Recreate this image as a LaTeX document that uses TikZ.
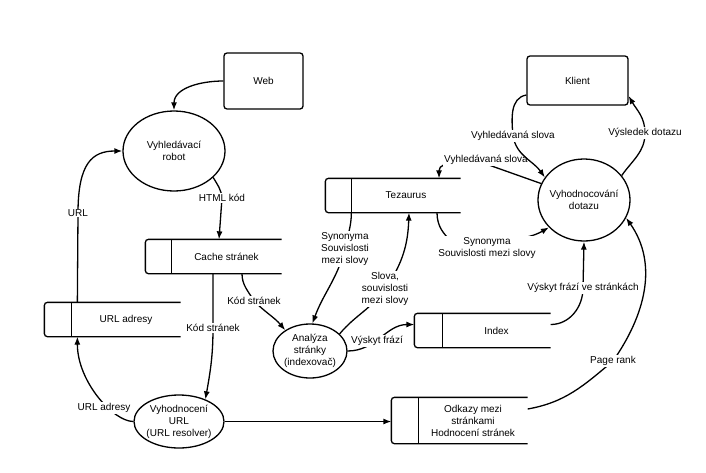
\documentclass[tikz,border=0pt]{standalone}
\usepackage{fontspec}
\setmainfont{Liberation Sans}
\usetikzlibrary{arrows.meta,shapes.geometric,calc}
\newcommand\mystore[2]{%
  \draw[rounded corners=3pt] (#1.north east) -- ([xshift=-#2]#1.north west) -- ([xshift=-#2]#1.south west) -- (#1.south east);
  \draw (#1.north west) -- (#1.south west);}
\begin{document}
\begin{tikzpicture}[x=1pt,y=1pt,
  font=\fontsize{10}{12}\selectfont, line width=1.3pt,
  ent/.style={draw, rounded corners=3pt, inner sep=0},
  proc/.style={draw, ellipse, inner sep=0, align=center},
  store/.style={inner sep=0, align=center, minimum width=108pt, minimum height=33pt},
  flow/.style={-{Latex[length=8pt,width=6pt]}},
  lbl/.style={fill=white, inner sep=1pt, align=center}]
\useasboundingbox (0,0) rectangle (706,-472);
\fill[white] (0,0) rectangle (706,-472);

% entities
\node[ent, minimum width=79pt, minimum height=56pt] (web) at (263.5,-81) {Web};
\node[ent, minimum width=101pt, minimum height=49pt] (klient) at (577.5,-80.5) {Klient};
% processes
\node[proc, minimum width=102pt, minimum height=80pt] (robot) at (174,-151) {Vyhledávací\\robot};
\node[proc, minimum width=90pt, minimum height=53pt, inner xsep=-1pt] (vurl) at (179,-421.5) {Vyhodnocení\\URL\\(URL resolver)};
\node[proc, minimum width=74pt, minimum height=54pt] (analyza) at (310,-351) {Analýza\\stránky\\(indexovač)};
\node[proc, minimum width=92pt, minimum height=82pt, inner xsep=-4pt] (vdot) at (584,-200) {Vyhodnocování\\dotazu};
% stores
\node[store, minimum width=109pt] (cache) at (226.5,-256.5) {Cache stránek};
\mystore{cache}{26pt}
\node[store] (urladr) at (126,-319.5) {URL adresy};
\mystore{urladr}{27pt}
\node[store] (tez) at (406,-195.5) {Tezaurus};
\mystore{tez}{26pt}
\node[store, minimum width=107pt] (index) at (496.5,-330.5) {Index};
\mystore{index}{28pt}
\node[store, minimum height=45pt] (odkazy) at (473,-420.5) {Odkazy mezi\\stránkami\\Hodnocení stránek};
\mystore{odkazy}{27pt}
\coordinate (odkL) at ([xshift=-27pt]odkazy.west);

% flows
\draw[flow] (web.west) to[out=180,in=90] (robot.north);
\draw[flow] (robot.-34) to[out=-60,in=95] (222,-198) node[lbl]{HTML kód} -- ([xshift=-7.5pt]cache.north);
\draw[flow] ([xshift=6pt]urladr.north west) -- (78,-213) node[lbl]{URL} .. controls +(0,50) and +(-30,0) .. (robot.west);
\draw[flow] ([xshift=-13.5pt]cache.south) -- (213,-328) node[lbl]{Kód stránek} to[out=-90,in=80] (vurl.40);
\draw[flow] (vurl.west) .. controls +(-20,0) and +(0,-45) .. ([xshift=6pt]urladr.south west);
\node[lbl] (lurladr) at (104,-408) {URL adresy};
\draw[flow] (vurl.east) -- (vurl.east -| odkL);
\draw[flow] ([xshift=15.5pt]cache.south) to[out=-90,in=120] (254,-301) node[lbl]{Kód stránek} to[out=-45,in=130] (analyza.140);
\draw[flow] (tez.south west) to[out=-90,in=80] (345,-249) node[lbl]{Synonyma\\Souvislosti\\mezi slovy} to[out=-105,in=70] (analyza.85);
\draw[flow] (analyza.30) to[out=50,in=-125] (385,-289) node[lbl]{Slova,\\souvislosti\\mezi slovy} to[out=55,in=-92] ([xshift=3pt]tez.south);
\draw[flow] (analyza.east) to[out=0,in=180] ([xshift=-28pt,yshift=6pt]index.west);
\node[lbl] (lvys) at (377,-341) {Výskyt frází};
\draw[flow] (vdot.159) -- (486,-164) to[out=180,in=90] ([xshift=33pt]tez.north);
\node[lbl] (lvs1) at (486,-160) {Vyhledávaná slova};
\draw[flow] ([xshift=31pt]tez.south) .. controls +(0,-14) and +(-6,6) .. (450,-240) -- (487,-248) node[lbl]{Synonyma\\Souvislosti mezi slovy} to[out=25,in=210] (vdot.-142);
\draw[flow] ([yshift=-14.5pt]klient.west) to[out=190,in=95] (513,-136) node[lbl]{Vyhledávaná slova} to[out=-80,in=125] (vdot.150);
\draw[flow] (vdot.33) to[out=55,in=-90] (645,-133) node[lbl]{Výsledek dotazu} to[out=90,in=-60] ([yshift=-15.5pt]klient.east);
\draw[flow] ([yshift=6pt]index.east) to[out=0,in=-90] (583,-288) node[lbl]{Výskyt frází ve stránkách} -- (vdot.south);
\draw[flow] ([yshift=11.5pt]odkazy.east) to[out=10,in=-140] (613,-361) node[lbl]{Page rank} to[out=55,in=-55] (vdot.-23);
\end{tikzpicture}
\end{document}
